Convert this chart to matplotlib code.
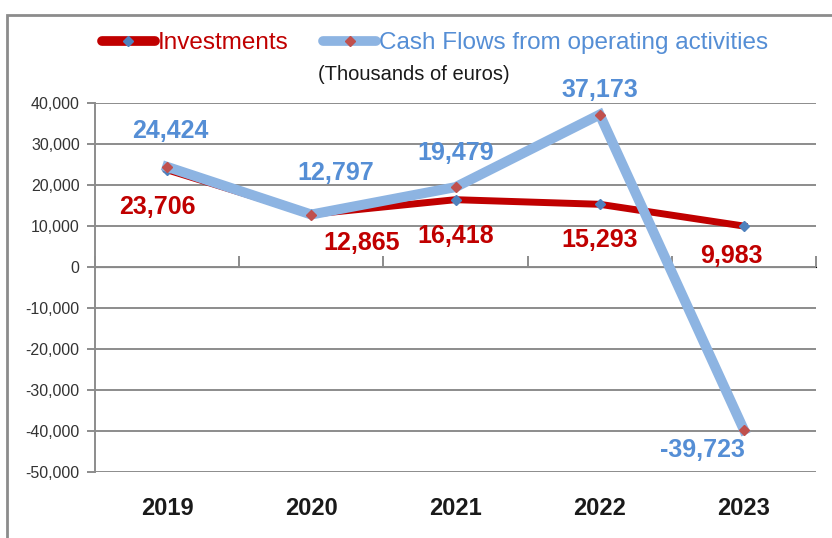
import matplotlib
matplotlib.use("Agg")
import matplotlib.pyplot as plt
from matplotlib.lines import Line2D
from matplotlib.patches import Rectangle

years = ["2019", "2020", "2021", "2022", "2023"]
investments = [23706, 12865, 16418, 15293, 9983]
cash_flows = [24424, 12797, 19479, 37173, -39723]
yticks = [40000, 30000, 20000, 10000, 0, -10000, -20000, -30000, -40000, -50000]

# label offsets in pixels (dx, dy)
inv_offsets = [(-10, -37), (50, -29), (0, -36), (0, -36), (-13, -30)]
cf_offsets = [(3, 36), (24, 42), (0, 34), (0, 25), (-41, -20)]

RED = "#C00000"
BLUE_LINE = "#8DB4E2"
BLUE_TEXT = "#558ED5"
GRID = "#8C8C8C"
FONT = "Liberation Sans"

plt.rcParams["font.family"] = [FONT, "DejaVu Sans"]

W, H = 832, 538
fig = plt.figure(figsize=(W / 100, H / 100), dpi=100)
ax = fig.add_axes([95 / W, (H - 472) / H, (816 - 95) / W, (472 - 103) / H])

x = list(range(len(years)))
ax.plot(x, investments, color=RED, lw=5.0, marker="D", ms=4.8,
        mfc="#4F81BD", mec="#4F81BD", zorder=3, solid_joinstyle="round")
ax.plot(x, cash_flows, color=BLUE_LINE, lw=7.2, marker="D", ms=4.8,
        mfc="#C0504D", mec="#C0504D", zorder=4, solid_joinstyle="miter")

for xi, v, (dx, dy) in zip(x, investments, inv_offsets):
    ax.annotate(f"{v:,}", (xi, v), xytext=(dx, dy), textcoords="offset pixels",
                ha="center", va="center", color=RED, fontsize=18,
                fontweight="bold", zorder=5)
for xi, v, (dx, dy) in zip(x, cash_flows, cf_offsets):
    ax.annotate(f"{v:,}", (xi, v), xytext=(dx, dy), textcoords="offset pixels",
                ha="center", va="center", color=BLUE_TEXT, fontsize=18,
                fontweight="bold", zorder=5)

ax.set_xlim(-0.5, len(years) - 0.5)
ax.set_ylim(-50000, 40000)
ax.set_yticks(yticks)
ax.set_yticklabels([f"{t:,}" for t in yticks], fontsize=11.5, color="#333333")
ax.yaxis.grid(True, color=GRID, lw=1.4)
ax.set_axisbelow(True)
ax.tick_params(axis="y", direction="out", length=6, width=1.4, color=GRID, pad=5)

ax.set_xticks(x)
ax.set_xticklabels(years, fontsize=17, fontweight="bold", color="#1a1a1a")
ax.tick_params(axis="x", length=0, pad=18)

for s in ["top", "right", "bottom"]:
    ax.spines[s].set_visible(False)
ax.spines["left"].set_color(GRID)
ax.spines["left"].set_linewidth(1.4)

# zero axis with category-boundary ticks
sec = ax.secondary_xaxis(5 / 9)
sec.set_xticks([i - 0.5 for i in range(len(years) + 1)])
sec.set_xticklabels([])
sec.tick_params(direction="out", length=8, width=1.4, color=GRID)
sec.spines["bottom"].set_color(GRID)
sec.spines["bottom"].set_linewidth(1.4)

# legend
handles = [
    Line2D([], [], color=RED, lw=7, marker="D", ms=5, mfc="#4F81BD",
           mec="#4F81BD", solid_capstyle="round"),
    Line2D([], [], color=BLUE_LINE, lw=7, marker="D", ms=5, mfc="#C0504D",
           mec="#C0504D", solid_capstyle="round"),
]
leg = fig.legend(handles, ["Investments", "Cash Flows from operating activities"],
                 loc="center", bbox_to_anchor=(435 / W, 1 - 43 / H), ncol=2,
                 frameon=False, fontsize=17.5, handlelength=2.2,
                 handletextpad=0.12, columnspacing=1.4)
leg.get_texts()[0].set_color(RED)
leg.get_texts()[1].set_color(BLUE_TEXT)

fig.text(414 / W, 1 - 74 / H, "(Thousands of euros)", ha="center", va="center",
         fontsize=14.5, color="#1a1a1a")

fig.patches.append(Rectangle((7 / W, -0.05), 1.1, 1 - 15 / H + 0.05,
                             transform=fig.transFigure, fill=False,
                             edgecolor="#8C8C8C", lw=2))

fig.savefig("out.png", dpi=100)
